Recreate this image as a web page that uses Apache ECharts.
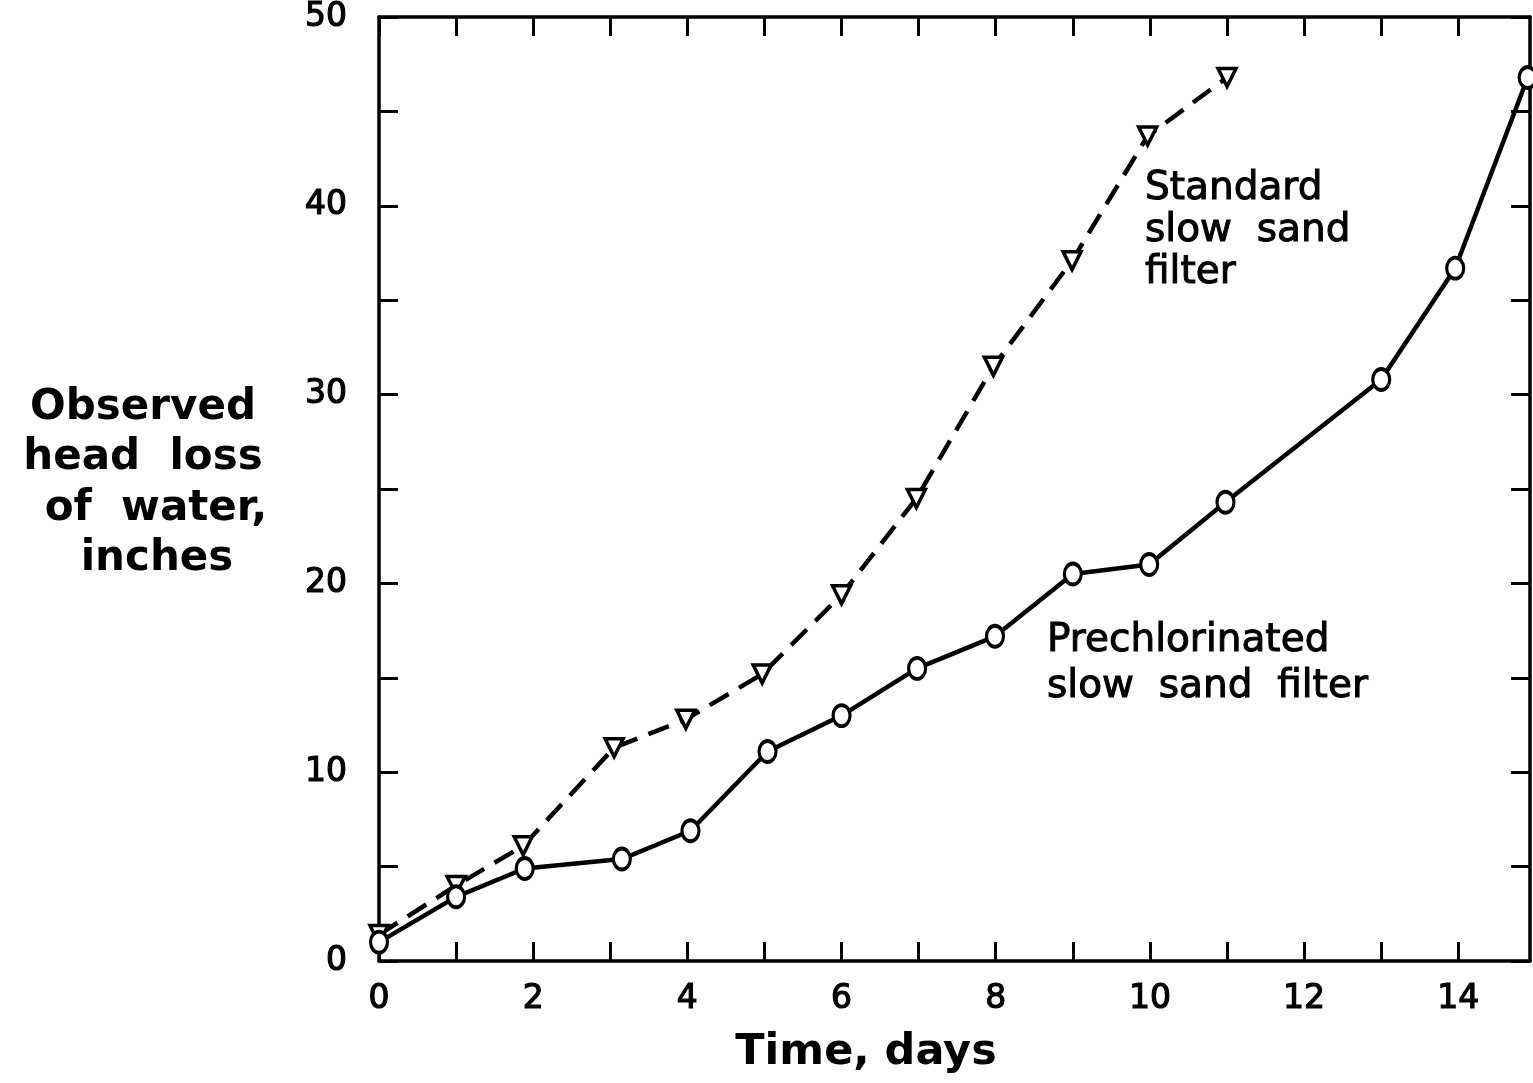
<!DOCTYPE html>
<html>
<head>
<meta charset="utf-8">
<title>Head loss vs time</title>
<script src="https://cdn.jsdelivr.net/npm/echarts@6/dist/echarts.min.js"></script>
<style>
  html, body { margin: 0; padding: 0; background: #fff; }
  #chart { width: 1533px; height: 1083px; }
</style>
</head>
<body>
<div id="chart"></div>
<script>
// Standard slow sand filter (dashed line, open down-triangles)
const standardDays = [0, 1, 1.87, 3.05, 3.98, 4.97, 6.0, 6.97, 7.97, 8.99, 9.97, 11.0];
const standardLoss = [1.4, 4.0, 6.1, 11.3, 12.8, 15.2, 19.4, 24.5, 31.5, 37.1, 43.7, 46.8];

// Prechlorinated slow sand filter (solid line, open circles)
const prechlorDays = [0, 1, 1.89, 3.15, 4.04, 5.04, 6.0, 6.98, 7.99, 9.0, 9.99, 10.98, 13.0, 13.96, 14.9];
const prechlorLoss = [1.0, 3.4, 4.9, 5.4, 6.9, 11.1, 13.0, 15.5, 17.2, 20.5, 21.0, 24.3, 30.8, 36.7, 46.8];

// Axis ticks and labels
const xTicks = [0, 1, 2, 3, 4, 5, 6, 7, 8, 9, 10, 11, 12, 13, 14];
const xTickLabels = [0, 2, 4, 6, 8, 10, 12, 14];
const yTicks = [0, 5, 10, 15, 20, 25, 30, 35, 40, 45, 50];
const yTickLabels = [0, 10, 20, 30, 40, 50];

const pairs = (xs, ys) => xs.map((x, i) => [x, ys[i]]);

const ink = '#000';
const tickFont = {
  fontFamily: 'DejaVu Sans', fontSize: 33, color: ink,
  textBorderColor: ink, textBorderWidth: 1.2
};

const chart = echarts.init(document.getElementById('chart'), null, { renderer: 'canvas' });

const axisLine = { show: true, onZero: false, lineStyle: { color: ink, width: 3.5 } };
const tick = (vals) => ({ show: true, inside: true, length: 19, lineStyle: { color: ink, width: 3 }, customValues: vals });

const labelStyle = { fill: ink, stroke: ink, lineWidth: 1, textAlign: 'left', textVerticalAlign: 'top' };
const titleStyle = { font: 'bold 42px "DejaVu Sans"', fill: ink, textAlign: 'center', textVerticalAlign: 'middle' };

chart.setOption({
  animation: false,
  backgroundColor: '#fff',
  grid: { left: 379, top: 13, width: 1151, height: 948, containLabel: false },
  xAxis: [
    {
      type: 'value', position: 'bottom', min: 0, max: 14.93,
      axisLine, axisTick: tick(xTicks), splitLine: { show: false },
      axisLabel: Object.assign({ margin: 22, customValues: xTickLabels }, tickFont)
    },
    {
      type: 'value', position: 'top', min: 0, max: 14.93,
      axisLine, axisTick: tick(xTicks), splitLine: { show: false },
      axisLabel: { show: false }
    }
  ],
  yAxis: [
    {
      type: 'value', position: 'left', min: 0, max: 50,
      axisLine, axisTick: tick(yTicks), splitLine: { show: false },
      axisLabel: Object.assign({ margin: 32, customValues: yTickLabels }, tickFont)
    },
    {
      type: 'value', position: 'right', min: 0, max: 50,
      axisLine, axisTick: tick(yTicks), splitLine: { show: false },
      axisLabel: { show: false }
    }
  ],
  series: [
    {
      name: 'Standard slow sand filter',
      type: 'line',
      data: pairs(standardDays, standardLoss),
      lineStyle: { color: ink, width: 4.5, type: [22, 12] },
      symbol: 'triangle', symbolRotate: 180, symbolSize: [18, 18],
      showAllSymbol: true,
      itemStyle: { color: '#fff', borderColor: ink, borderWidth: 3.5 },
      z: 3
    },
    {
      name: 'Prechlorinated slow sand filter',
      type: 'line',
      data: pairs(prechlorDays, prechlorLoss),
      lineStyle: { color: ink, width: 4.5 },
      symbol: 'circle', symbolSize: [17, 21],
      showAllSymbol: true,
      itemStyle: { color: '#fff', borderColor: ink, borderWidth: 3.5 },
      z: 4
    }
  ],
  graphic: [
    // y-axis title, one line per text element
    { type: 'text', x: 143, y: 408, style: Object.assign({ text: 'Observed' }, titleStyle) },
    { type: 'text', x: 143, y: 458, style: Object.assign({ text: 'head  loss' }, titleStyle) },
    { type: 'text', x: 156, y: 509, style: Object.assign({ text: 'of  water,' }, titleStyle) },
    { type: 'text', x: 157, y: 559, style: Object.assign({ text: 'inches' }, titleStyle) },
    // x-axis title
    { type: 'text', x: 866, y: 1053, style: Object.assign({}, titleStyle, { text: 'Time, days', font: 'bold 43px "DejaVu Sans"' }) },
    // series annotations
    { type: 'text', x: 1145, y: 168, style: Object.assign({ text: 'Standard\nslow  sand\nfilter', font: '39px "DejaVu Sans"', lineHeight: 42 }, labelStyle) },
    { type: 'text', x: 1047, y: 618, style: Object.assign({ text: 'Prechlorinated\nslow  sand  filter', font: '39px "DejaVu Sans"', lineHeight: 46 }, labelStyle) }
  ]
});
</script>
</body>
</html>
